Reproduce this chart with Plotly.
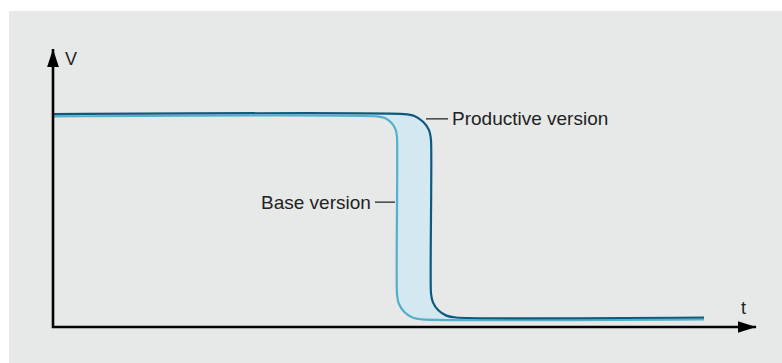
"""
Voltage curve: base version vs productive version
"""

import plotly.graph_objects as go

# Base version curve (t, V); the extra points near the step trace the rounded corners
base_t = [0, 49.77, 50.95, 51.94, 52.61, 52.84, 52.84, 53.13, 53.96, 55.21, 56.68, 100]
base_v = [0.998, 0.998, 0.990, 0.969, 0.937, 0.900, 0.156, 0.110, 0.071, 0.045, 0.036, 0.036]

# Productive version curve
prod_t = [0, 53.92, 55.50, 56.85, 57.74, 58.06, 58.06, 58.36, 59.19, 60.43, 61.90, 100]
prod_v = [1.009, 1.009, 1.000, 0.973, 0.934, 0.886, 0.161, 0.117, 0.079, 0.054, 0.045, 0.045]

# Axes (origin and arrow tips)
axis_t_end = 108.0
axis_v_end = 1.318

# Label anchor points on the curves
base_label_pt = (52.84, 0.592)
prod_label_pt = (57.3, 0.986)

BASE_COLOR = '#55afcc'
PROD_COLOR = '#0d5a7e'
FILL_COLOR = '#d3e8f1'
PANEL_BG = '#e7e9e8'
TEXT_COLOR = '#222222'
FONT = "Liberation Sans, Arial, sans-serif"

fig = go.Figure()

# base curve
fig.add_trace(go.Scatter(
    x=base_t, y=base_v, mode='lines',
    line=dict(color=BASE_COLOR, width=2.2, shape='spline', smoothing=0.6),
    hoverinfo='skip', showlegend=False
))

# productive curve, filled back to base curve
fig.add_trace(go.Scatter(
    x=prod_t, y=prod_v, mode='lines',
    line=dict(color=PROD_COLOR, width=2.2, shape='spline', smoothing=0.6),
    fill='tonexty', fillcolor=FILL_COLOR,
    hoverinfo='skip', showlegend=False
))

# axis lines
fig.add_trace(go.Scatter(
    x=[axis_t_end, 0, 0], y=[0, 0, axis_v_end], mode='lines',
    line=dict(color='black', width=2.6),
    hoverinfo='skip', showlegend=False
))

# arrow heads
fig.add_trace(go.Scatter(
    x=[0, axis_t_end], y=[axis_v_end, 0], mode='markers',
    marker=dict(symbol='arrow', size=19, color='black', angle=[0, 90],
                line=dict(width=0)),
    hoverinfo='skip', showlegend=False
))

# axis labels
fig.add_annotation(x=2.84, y=1.27, text='V', showarrow=False,
                   font=dict(family=FONT, size=18, color=TEXT_COLOR))
fig.add_annotation(x=106.07, y=0.092, text='t', showarrow=False,
                   font=dict(family=FONT, size=18, color=TEXT_COLOR))

# curve labels with leader dashes
fig.add_annotation(
    x=base_label_pt[0], y=base_label_pt[1], text='Base version',
    showarrow=True, arrowhead=0, arrowwidth=1.2, arrowcolor=TEXT_COLOR,
    ax=-22, ay=0, xanchor='right', borderpad=3, standoff=2,
    font=dict(family=FONT, size=19, color=TEXT_COLOR)
)
fig.add_annotation(
    x=prod_label_pt[0], y=prod_label_pt[1], text='Productive version',
    showarrow=True, arrowhead=0, arrowwidth=1.2, arrowcolor=TEXT_COLOR,
    ax=22, ay=0, xanchor='left', borderpad=3, standoff=0,
    font=dict(family=FONT, size=19, color=TEXT_COLOR)
)

fig.update_xaxes(visible=False, range=[-6.759, 111.98], fixedrange=True)
fig.update_yaxes(visible=False, range=[-0.1706, 1.4976], fixedrange=True)

fig.update_layout(
    width=782, height=363,
    margin=dict(l=9, r=0, t=11, b=0),
    paper_bgcolor='white',
    plot_bgcolor=PANEL_BG,
    font=dict(family=FONT, size=18, color=TEXT_COLOR),
    showlegend=False
)

# drop the default body margin and scrollbars so the figure fills the window
fig.write_html(
    "out.html", config={'displayModeBar': False},
    post_script=("document.body.style.margin='0';"
                 "document.body.style.overflow='hidden';"
                 "document.documentElement.style.overflow='hidden';")
)
